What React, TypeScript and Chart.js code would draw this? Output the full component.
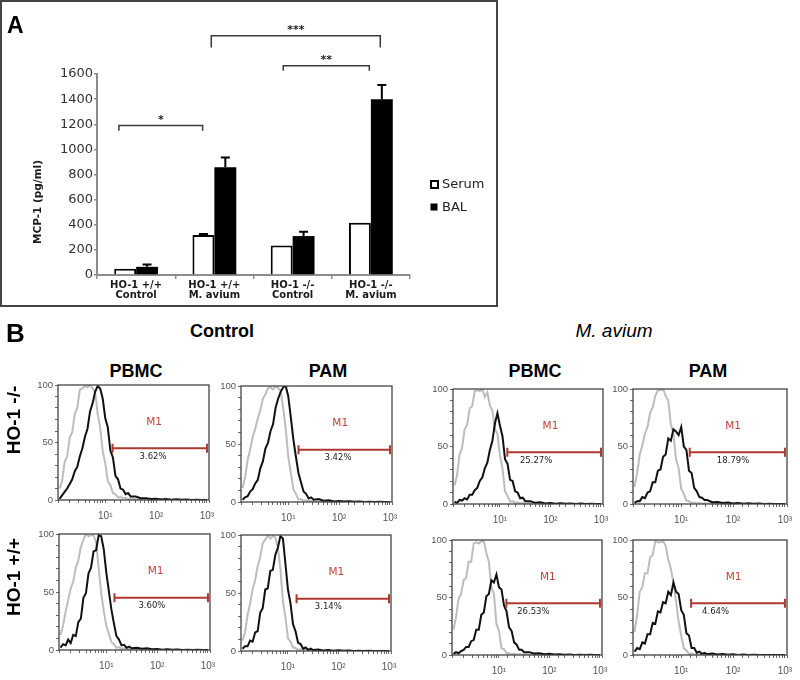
import React, { useEffect, useRef } from "react";
import { Chart, registerables } from "chart.js";

Chart.register(...registerables);
Chart.defaults.font.family = "'DejaVu Sans', sans-serif";

// ---------- Panel A data ----------
const groupLabels = [
  ["HO-1 +/+", "Control"],
  ["HO-1 +/+", "M. avium"],
  ["HO-1 -/-", "Control"],
  ["HO-1 -/-", "M. avium"],
];
const serumMeans = [50, 318, 235, 415];
const serumErrors = [0, 8, 0, 0];
const balMeans = [65, 858, 310, 1400];
const balErrors = [18, 78, 35, 112];
const mcpTicks = [0, 200, 400, 600, 800, 1000, 1200, 1400, 1600];
const sigLabels = ["*", "**", "***"];
const sigFrom = [-0.22, 1.88, 0.96];
const sigTo = [0.85, 2.98, 3.12];
const sigLevel = [1190, 1666, 1905];
const sigDrop = [42, 40, 95];

// ---------- Panel B data (flow histograms) ----------
const histBinExp = [
  0.1, 0.15, 0.2, 0.25, 0.3, 0.35, 0.4, 0.45, 0.5, 0.55,
  0.6, 0.65, 0.7, 0.75, 0.8, 0.85, 0.9, 0.95, 1.0, 1.05,
  1.1, 1.15, 1.2, 1.25, 1.3, 1.35, 1.4, 1.45, 1.5, 1.6,
  1.7, 1.8, 1.9, 2.0, 2.1, 2.2, 2.3, 2.4, 2.5, 2.6,
  2.7, 2.8, 2.9, 3.0,
];
const decadeLabels = ["10¹", "10²", "10³"];
const countTicks = [0, 50, 100];

const ctrlPbmcKoIso = [10, 16, 33, 38, 54, 59, 75, 80, 96, 97, 99, 98, 100, 97, 94, 75, 63, 42, 32, 16, 13, 6, 5, 2, 2.5, 1.5, 2, 0.8, 1.2, 0.6, 0.8, 0.3, 0.5, 0.2, 0.4, 0.1, 0.3, 0.1, 0.2, 0, 0.1, 0, 0.1, 0];
const ctrlPbmcKoStain = [1, 4, 7, 10, 14, 18, 25, 29, 38, 45, 55, 62, 77, 84, 94, 99, 97, 88, 71, 63, 43, 37, 21, 18, 10, 9, 5, 6, 3, 3, 1.5, 1.6, 0.8, 1, 0.5, 0.8, 0.3, 0.6, 0.2, 0.4, 0.1, 0.3, 0.1, 0];
const ctrlPamKoIso = [12, 21, 36, 45, 56, 63, 72, 79, 89, 93, 98, 99, 97, 100, 98, 96, 81, 63, 39, 25, 11, 7, 2, 2.5, 1, 1.5, 0.6, 1, 0.4, 0.7, 0.3, 0.5, 0.2, 0.3, 0.1, 0.3, 0, 0.2, 0, 0.1, 0, 0.1, 0, 0];
const ctrlPamKoStain = [2, 4, 5, 9, 11, 16, 19, 29, 35, 46, 51, 61, 67, 81, 89, 95, 99, 100, 91, 73, 54, 39, 25, 17, 9, 7, 3, 4, 2, 2.5, 1, 1.5, 0.5, 0.8, 0.4, 0.6, 0.2, 0.5, 0.1, 0.3, 0, 0.2, 0.1, 0];
const ctrlPbmcWtIso = [13, 21, 33, 43, 53, 59, 71, 77, 89, 95, 100, 98, 99, 99, 93, 71, 49, 34, 21, 14, 7, 5, 2, 2.5, 1, 1.5, 0.6, 1, 0.4, 0.7, 0.2, 0.5, 0.1, 0.3, 0.1, 0.2, 0, 0.2, 0, 0.1, 0, 0.1, 0, 0];
const ctrlPbmcWtStain = [2, 5, 4, 9, 6, 13, 12, 24, 27, 45, 49, 66, 71, 85, 86, 99, 98, 87, 67, 51, 35, 23, 12, 9, 4, 4.5, 2, 3, 1.5, 2, 1, 1.4, 0.6, 0.9, 0.3, 0.6, 0.2, 0.5, 0.1, 0.3, 0.1, 0.2, 0, 0];
const ctrlPamWtIso = [9, 16, 31, 41, 53, 61, 73, 81, 93, 96, 100, 97, 99, 98, 89, 71, 43, 29, 11, 8, 3, 2.5, 1, 1.5, 0.6, 1, 0.4, 0.7, 0.2, 0.5, 0.1, 0.3, 0.1, 0.2, 0, 0.2, 0, 0.1, 0, 0.1, 0, 0, 0, 0];
const ctrlPamWtStain = [2, 4, 4, 9, 8, 16, 17, 33, 37, 53, 54, 69, 70, 83, 89, 99, 97, 75, 53, 41, 23, 17, 7, 6, 2, 3, 1, 2, 0.8, 1.2, 0.5, 0.8, 0.3, 0.6, 0.2, 0.4, 0.1, 0.3, 0.1, 0.2, 0, 0.1, 0, 0];
const avPbmcKoIso = [16, 25, 43, 49, 65, 69, 83, 85, 98, 99, 98, 100, 93, 97, 86, 81, 65, 61, 42, 31, 11, 7, 2, 2.5, 1, 1.5, 0.5, 1, 0.3, 0.6, 0.2, 0.4, 0.1, 0.3, 0, 0.2, 0, 0.1, 0, 0.1, 0, 0, 0, 0];
const avPbmcKoStain = [2, 1, 3.5, 3, 5, 4, 8, 8, 12, 14, 20, 23, 31, 36, 47, 55, 70, 79, 68, 59, 39, 35, 21, 20, 11, 10, 5, 5.5, 2.5, 2.5, 1, 1.6, 0.5, 0.9, 0.3, 0.7, 0.2, 0.5, 0.1, 0.4, 0.1, 0.2, 0, 0];
const avPamKoIso = [15, 27, 43, 51, 61, 67, 79, 84, 94, 99, 99, 100, 94, 90, 69, 61, 39, 31, 13, 9, 3, 2.5, 0.8, 1.2, 0.5, 0.8, 0.3, 0.6, 0.2, 0.4, 0.1, 0.3, 0, 0.2, 0, 0.1, 0, 0.1, 0, 0, 0, 0, 0, 0];
const avPamKoStain = [1, 2.5, 2.5, 6, 5, 10, 11, 19, 19, 29, 30, 41, 43, 57, 55, 65, 63, 60, 67, 50, 47, 29, 27, 14, 11, 6, 5.5, 3.5, 3.5, 1.5, 1.8, 0.9, 1.2, 0.5, 0.8, 0.3, 0.6, 0.2, 0.4, 0.1, 0.3, 0.1, 0.1, 0];
const avPbmcWtIso = [22, 33, 49, 53, 65, 67, 81, 81, 97, 98, 97, 99, 99, 89, 81, 59, 53, 27, 21, 6, 5, 1.5, 1.5, 0.6, 1, 0.4, 0.7, 0.2, 0.5, 0.1, 0.3, 0.1, 0.2, 0, 0.1, 0, 0.1, 0, 0, 0, 0, 0, 0, 0];
const avPbmcWtStain = [1, 2.5, 1.5, 3.5, 4.5, 7, 7, 12, 13, 22, 22, 35, 37, 51, 53, 65, 63, 70, 59, 57, 43, 38, 24, 21, 11, 9, 4.5, 4.5, 2.5, 2.5, 1.2, 1.6, 0.7, 1, 0.4, 0.7, 0.2, 0.5, 0.1, 0.3, 0.1, 0.2, 0, 0];
const avPamWtIso = [20, 35, 55, 59, 71, 71, 85, 87, 99, 98, 98, 99, 95, 83, 75, 63, 47, 29, 17, 6, 4, 1, 1.3, 0.5, 0.8, 0.3, 0.6, 0.2, 0.4, 0.1, 0.3, 0, 0.2, 0, 0.1, 0, 0.1, 0, 0, 0, 0, 0, 0, 0];
const avPamWtStain = [3, 6, 5, 11, 10, 18, 18, 28, 27, 38, 37, 46, 45, 55, 52, 63, 55, 53, 39, 35, 19, 17, 6, 6, 2, 3, 1, 1.8, 0.6, 1.2, 0.4, 0.8, 0.2, 0.6, 0.1, 0.4, 0.1, 0.2, 0, 0.1, 0, 0.1, 0, 0];

// M1 gates
const gateStart = [13.9, 15.9, 14.5, 14.8, 14.0, 14.6, 14.0, 15.5];
const gateEnd = [1000, 1000, 1000, 1000, 1000, 1000, 1000, 1000];
const gateLevel = [45, 45, 45, 45, 45, 45, 45, 45];
const gatePercent = ["3.62%", "3.42%", "3.60%", "3.14%", "25.27%", "18.79%", "26.53%", "4.64%"];
const gatePercentAt = [87, 95, 79, 63, 52, 100, 48, 46];
const gateNameAt = [91, 105, 93, 91, 100, 100, 93, 102];

const histIso = [ctrlPbmcKoIso, ctrlPamKoIso, ctrlPbmcWtIso, ctrlPamWtIso, avPbmcKoIso, avPamKoIso, avPbmcWtIso, avPamWtIso];
const histStain = [ctrlPbmcKoStain, ctrlPamKoStain, ctrlPbmcWtStain, ctrlPamWtStain, avPbmcKoStain, avPamKoStain, avPbmcWtStain, avPamWtStain];

// layout (plot-box rectangles on the page)
const histBoxes = [
  { left: 58, top: 385, width: 151, height: 115 },
  { left: 241, top: 386, width: 151, height: 116 },
  { left: 59, top: 534, width: 151, height: 116 },
  { left: 241, top: 535, width: 150, height: 116 },
  { left: 453, top: 389, width: 150, height: 115 },
  { left: 633, top: 389, width: 154, height: 115 },
  { left: 452, top: 540, width: 150, height: 115 },
  { left: 633, top: 540, width: 154, height: 115 },
];

const X_MIN = Math.pow(10, 0.07);
const X_MAX = Math.pow(10, 3.04);

function BarChart() {
  const ref = useRef<HTMLCanvasElement>(null);
  useEffect(() => {
    const extras = {
      id: "barExtras",
      afterDatasetsDraw(chart: any) {
        const ctx = chart.ctx;
        const xs = chart.scales.x;
        const ys = chart.scales.y;
        ctx.save();
        const errs = [serumErrors, balErrors];
        [0, 1].forEach((di) => {
          const meta = chart.getDatasetMeta(di);
          meta.data.forEach((bar: any, i: number) => {
            const e = errs[di][i];
            if (!e) return;
            const v = (di === 0 ? serumMeans : balMeans)[i];
            const yTop = ys.getPixelForValue(v + e);
            const yBase = ys.getPixelForValue(v);
            ctx.strokeStyle = "#000";
            ctx.lineWidth = 2;
            ctx.beginPath();
            ctx.moveTo(bar.x, yBase);
            ctx.lineTo(bar.x, yTop);
            ctx.moveTo(bar.x - 4.5, yTop);
            ctx.lineTo(bar.x + 4.5, yTop);
            ctx.stroke();
          });
        });
        ctx.strokeStyle = "#3a3a3a";
        ctx.lineWidth = 1.5;
        ctx.fillStyle = "#222";
        ctx.font = "bold 11px 'DejaVu Sans'";
        ctx.textAlign = "center";
        ctx.textBaseline = "alphabetic";
        sigLabels.forEach((lab, i) => {
          const x1 = xs.getPixelForValue(sigFrom[i]);
          const x2 = xs.getPixelForValue(sigTo[i]);
          const y = ys.getPixelForValue(sigLevel[i]);
          const yd = ys.getPixelForValue(sigLevel[i] - sigDrop[i]);
          ctx.beginPath();
          ctx.moveTo(x1, yd);
          ctx.lineTo(x1, y);
          ctx.lineTo(x2, y);
          ctx.lineTo(x2, yd);
          ctx.stroke();
          ctx.fillText(lab, (x1 + x2) / 2, y - 3);
        });
        ctx.restore();
      },
      afterDraw(chart: any) {
        const ctx = chart.ctx;
        ctx.save();
        ctx.translate(38, 202);
        ctx.rotate(-Math.PI / 2);
        ctx.fillStyle = "#1a1a1a";
        ctx.font = "bold 10.5px 'DejaVu Sans'";
        ctx.textAlign = "center";
        ctx.textBaseline = "middle";
        ctx.fillText("MCP-1 (pg/ml)", 0, 0);
        ctx.restore();
        ctx.save();
        ctx.fillStyle = "#fff";
        ctx.fillRect(431, 181, 7, 7);
        ctx.strokeStyle = "#000";
        ctx.lineWidth = 2;
        ctx.strokeRect(431, 181, 7, 7);
        ctx.fillStyle = "#000";
        ctx.fillRect(430.5, 203.5, 7, 7);
        ctx.fillStyle = "#222";
        ctx.font = "13px 'DejaVu Sans'";
        ctx.textAlign = "left";
        ctx.textBaseline = "middle";
        ctx.fillText(chart.data.datasets[0].label, 442, 184.5);
        ctx.fillText(chart.data.datasets[1].label, 442, 207.5);
        ctx.restore();
      },
    };
    const chart = new Chart(ref.current as HTMLCanvasElement, {
      type: "bar",
      data: {
        labels: groupLabels as any,
        datasets: [
          {
            label: "Serum",
            data: serumMeans,
            backgroundColor: "#ffffff",
            borderColor: "#000000",
            borderWidth: 2,
          },
          {
            label: "BAL",
            data: balMeans,
            backgroundColor: "#000000",
            borderColor: "#000000",
            borderWidth: 0,
          },
        ],
      },
      options: {
        animation: false,
        responsive: false,
        events: [],
        layout: { padding: { left: 57, right: 88, top: 74, bottom: 5 } },
        datasets: { bar: { categoryPercentage: 0.56, barPercentage: 1 } } as any,
        plugins: { legend: { display: false }, tooltip: { enabled: false } },
        scales: {
          x: {
            afterFit: (s: any) => {
              s.height = 26;
            },
            border: { color: "#8c8c8c", width: 2 },
            grid: { drawOnChartArea: false, tickLength: 4, color: "#8c8c8c", lineWidth: 1.5 },
            ticks: {
              autoSkip: false,
              maxRotation: 0,
              padding: 1,
              color: "#1a1a1a",
              font: { family: "'DejaVu Sans'", size: 10, weight: "bold", lineHeight: 1.0 },
            },
          },
          y: {
            min: 0,
            max: 1600,
            afterBuildTicks: (s: any) => {
              s.ticks = mcpTicks.map((v) => ({ value: v }));
            },
            afterFit: (s: any) => {
              s.width = 40;
            },
            border: { color: "#8c8c8c", width: 2 },
            grid: { drawOnChartArea: false, tickLength: 3, color: "#8c8c8c", lineWidth: 1.5 },
            ticks: {
              padding: 1,
              color: "#333",
              font: { family: "'DejaVu Sans'", size: 13 },
              callback: (v: any) => String(v),
            },
          },
        },
      },
      plugins: [extras],
    });
    return () => chart.destroy();
  }, []);
  return (
    <canvas
      ref={ref}
      width={498}
      height={306}
      style={{ position: "absolute", left: 0, top: 0, width: 498, height: 306 }}
    />
  );
}

function Histogram({ idx }: { idx: number }) {
  const ref = useRef<HTMLCanvasElement>(null);
  const box = histBoxes[idx];
  const padL = 30,
    padT = 8,
    padR = 8,
    padB = 26;
  useEffect(() => {
    const gate = {
      id: "gate",
      afterDraw(chart: any) {
        const ctx = chart.ctx;
        const xs = chart.scales.x;
        const ys = chart.scales.y;
        const a = chart.chartArea;
        ctx.save();
        ctx.strokeStyle = "#444";
        ctx.lineWidth = 1.3;
        ctx.strokeRect(a.left, a.top, a.right - a.left, a.bottom - a.top);
        const y = ys.getPixelForValue(gateLevel[idx]);
        const x1 = xs.getPixelForValue(gateStart[idx]);
        const x2 = xs.getPixelForValue(gateEnd[idx]);
        ctx.strokeStyle = "#ad3a30";
        ctx.lineWidth = 2;
        ctx.beginPath();
        ctx.moveTo(x1, y);
        ctx.lineTo(x2, y);
        ctx.moveTo(x1, y - 4.5);
        ctx.lineTo(x1, y + 4.5);
        ctx.moveTo(x2, y - 4.5);
        ctx.lineTo(x2, y + 4.5);
        ctx.stroke();
        ctx.textAlign = "center";
        ctx.textBaseline = "middle";
        ctx.fillStyle = "#c0433a";
        ctx.font = "10.5px 'DejaVu Sans'";
        ctx.fillText("M1", xs.getPixelForValue(gateNameAt[idx]), ys.getPixelForValue(68));
        ctx.fillStyle = "#222";
        ctx.font = "8.5px 'DejaVu Sans'";
        ctx.fillText(gatePercent[idx], xs.getPixelForValue(gatePercentAt[idx]), ys.getPixelForValue(38));
        ctx.restore();
      },
    };
    const pts = (arr: number[]) => histBinExp.map((e, i) => ({ x: Math.pow(10, e), y: arr[i] }));
    const chart = new Chart(ref.current as HTMLCanvasElement, {
      type: "line",
      data: {
        datasets: [
          {
            label: "stained",
            data: pts(histStain[idx]),
            borderColor: "#111111",
            borderWidth: 2,
            pointRadius: 0,
            tension: 0,
          },
          {
            label: "isotype",
            data: pts(histIso[idx]),
            borderColor: "#bdbdbd",
            borderWidth: 2,
            pointRadius: 0,
            tension: 0,
          },
        ],
      },
      options: {
        animation: false,
        responsive: false,
        events: [],
        layout: { padding: { left: 0, top: padT, right: padR, bottom: 0 } },
        plugins: { legend: { display: false }, tooltip: { enabled: false } },
        scales: {
          x: {
            type: "logarithmic",
            min: X_MIN,
            max: X_MAX,
            afterFit: (s: any) => {
              s.height = padB;
            },
            border: { display: false },
            grid: { drawOnChartArea: false, tickLength: 3, color: "#666" },
            ticks: {
              autoSkip: false,
              maxRotation: 0,
              padding: 7,
              color: "#555",
              font: { family: "'Liberation Sans'", size: 10 },
              callback: (v: any) => {
                const l = Math.log10(Number(v));
                const r = Math.round(l);
                if (Math.abs(l - r) < 1e-6 && r >= 1 && r <= 3) return decadeLabels[r - 1];
                return "";
              },
            },
          },
          y: {
            min: 0,
            max: 100,
            afterFit: (s: any) => {
              s.width = padL;
            },
            border: { display: false },
            grid: { drawOnChartArea: false, tickLength: 3, color: "#666" },
            ticks: {
              stepSize: 10,
              autoSkip: false,
              padding: 2,
              color: "#555",
              font: { family: "'Liberation Sans'", size: 9.5 },
              callback: (v: any) => (countTicks.includes(Number(v)) ? String(v) : ""),
            },
          },
        },
      },
      plugins: [gate],
    });
    return () => chart.destroy();
  }, [idx]);
  const w = box.width + padL + padR;
  const h = box.height + padT + padB;
  return (
    <canvas
      ref={ref}
      width={w}
      height={h}
      style={{ position: "absolute", left: box.left - padL, top: box.top - padT, width: w, height: h }}
    />
  );
}

const sansFam = "'Liberation Sans', Arial, sans-serif";

function Label({
  text,
  cx,
  baseline,
  size,
  weight = "bold",
  italic = false,
  left,
}: {
  text: string;
  cx?: number;
  baseline: number;
  size: number;
  weight?: string;
  italic?: boolean;
  left?: number;
}) {
  const style: any = {
    position: "absolute",
    top: baseline - 0.8465 * size,
    fontFamily: sansFam,
    fontSize: size,
    lineHeight: `${size}px`,
    fontWeight: weight,
    fontStyle: italic ? "italic" : "normal",
    whiteSpace: "nowrap",
    color: "#000",
  };
  if (left !== undefined) style.left = left;
  else {
    style.left = cx;
    style.transform = "translateX(-50%)";
  }
  return <div style={style}>{text}</div>;
}

function RowLabel({ text, cx, cy }: { text: string; cx: number; cy: number }) {
  return (
    <div
      style={{
        position: "absolute",
        left: cx,
        top: cy,
        transform: "translate(-50%, -50%) rotate(-90deg)",
        fontFamily: sansFam,
        fontSize: 19,
        lineHeight: "19px",
        fontWeight: "bold",
        whiteSpace: "nowrap",
        color: "#000",
      }}
    >
      {text}
    </div>
  );
}

export default function App() {
  return (
    <div
      style={{
        position: "absolute",
        left: 0,
        top: 0,
        width: 800,
        height: 680,
        background: "#fff",
        overflow: "hidden",
      }}
    >
      <div
        style={{
          position: "absolute",
          left: 0,
          top: 0,
          width: 498,
          height: 307,
          boxSizing: "border-box",
          border: "2px solid #444",
        }}
      />
      <BarChart />
      <Label text="A" left={7} baseline={33} size={23} />
      <Label text="B" left={6} baseline={342} size={26} />
      <Label text="Control" cx={222} baseline={337} size={18} />
      <Label text="M. avium" cx={614} baseline={337} size={19} weight="normal" italic />
      <Label text="PBMC" cx={136} baseline={377} size={18} />
      <Label text="PAM" cx={328} baseline={377} size={18} />
      <Label text="PBMC" cx={535} baseline={377} size={18} />
      <Label text="PAM" cx={708} baseline={377} size={18} />
      <RowLabel text="HO-1 -/-" cx={13} cy={420} />
      <RowLabel text="HO-1 +/+" cx={13} cy={577} />
      {histBoxes.map((_, i) => (
        <Histogram key={i} idx={i} />
      ))}
    </div>
  );
}
